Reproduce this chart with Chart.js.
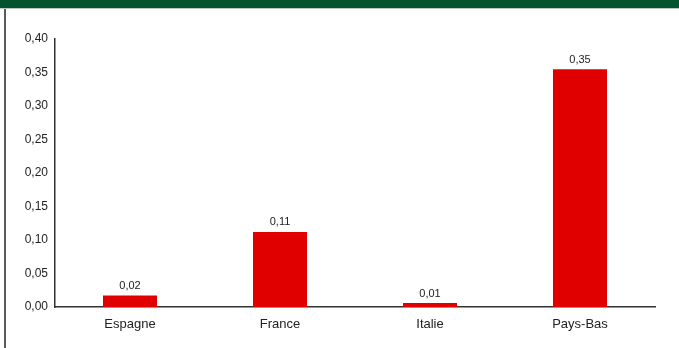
<!DOCTYPE html>
<html>
<head>
<meta charset="utf-8">
<script src="https://cdn.jsdelivr.net/npm/chart.js@4/dist/chart.umd.min.js"></script>
<style>
  html, body { margin: 0; padding: 0; background: #fff; }
  #wrap { position: relative; width: 679px; height: 348px; overflow: hidden; }
  #hdr { position: absolute; left: 0; top: 0; width: 679px; height: 8px; background: #02522f; border-bottom: 1px solid #b9c9bf; }
  #lb { position: absolute; left: 4px; top: 9px; width: 2px; height: 339px; background: #5a5a5a; }
  #c { position: absolute; left: 0; top: 0; }
</style>
</head>
<body>
<div id="wrap">
  <canvas id="c" width="679" height="348"></canvas>
  <div id="hdr"></div>
  <div id="lb"></div>
</div>
<script>
const categories = ["Espagne", "France", "Italie", "Pays-Bas"];
const values = [0.017, 0.112, 0.006, 0.355];
const valueLabels = ["0,02", "0,11", "0,01", "0,35"];
const yTicks = [0, 0.05, 0.10, 0.15, 0.20, 0.25, 0.30, 0.35, 0.40];

const fmt = v => v.toFixed(2).replace('.', ',');

const labelPlugin = {
  id: 'valLabels',
  afterDatasetsDraw(chart) {
    const ctx = chart.ctx;
    const meta = chart.getDatasetMeta(0);
    ctx.save();
    ctx.font = '11px "Liberation Sans", Arial, sans-serif';
    ctx.fillStyle = '#222';
    ctx.textAlign = 'center';
    ctx.textBaseline = 'bottom';
    meta.data.forEach((bar, i) => {
      ctx.fillText(valueLabels[i], bar.x, bar.y - 4);
    });
    ctx.restore();
  }
};

new Chart(document.getElementById('c'), {
  type: 'bar',
  data: {
    labels: categories,
    datasets: [{
      data: values,
      backgroundColor: '#e10000',
      borderWidth: 0,
      barPercentage: 0.36,
      categoryPercentage: 1.0
    }]
  },
  options: {
    responsive: false,
    animation: false,
    events: [],
    layout: { padding: { top: 39, right: 24, left: 0, bottom: 0 } },
    plugins: { legend: { display: false }, tooltip: { enabled: false } },
    scales: {
      x: {
        grid: { display: false },
        border: { display: true, color: '#333', width: 1.5 },
        ticks: {
          color: '#222',
          font: { family: '"Liberation Sans", Arial, sans-serif', size: 13 },
          padding: 2,
          maxRotation: 0
        },
        afterFit(scale) { scale.height = 41; }
      },
      y: {
        min: 0,
        max: 0.40,
        grid: { display: false },
        border: { display: true, color: '#333', width: 1.5 },
        afterBuildTicks(scale) { scale.ticks = yTicks.map(v => ({ value: v })); },
        ticks: {
          color: '#222',
          font: { family: '"Liberation Sans", Arial, sans-serif', size: 12 },
          padding: -1,
          callback: v => fmt(v)
        },
        afterFit(scale) { scale.width = 55; }
      }
    }
  },
  plugins: [labelPlugin]
});
</script>
</body>
</html>
